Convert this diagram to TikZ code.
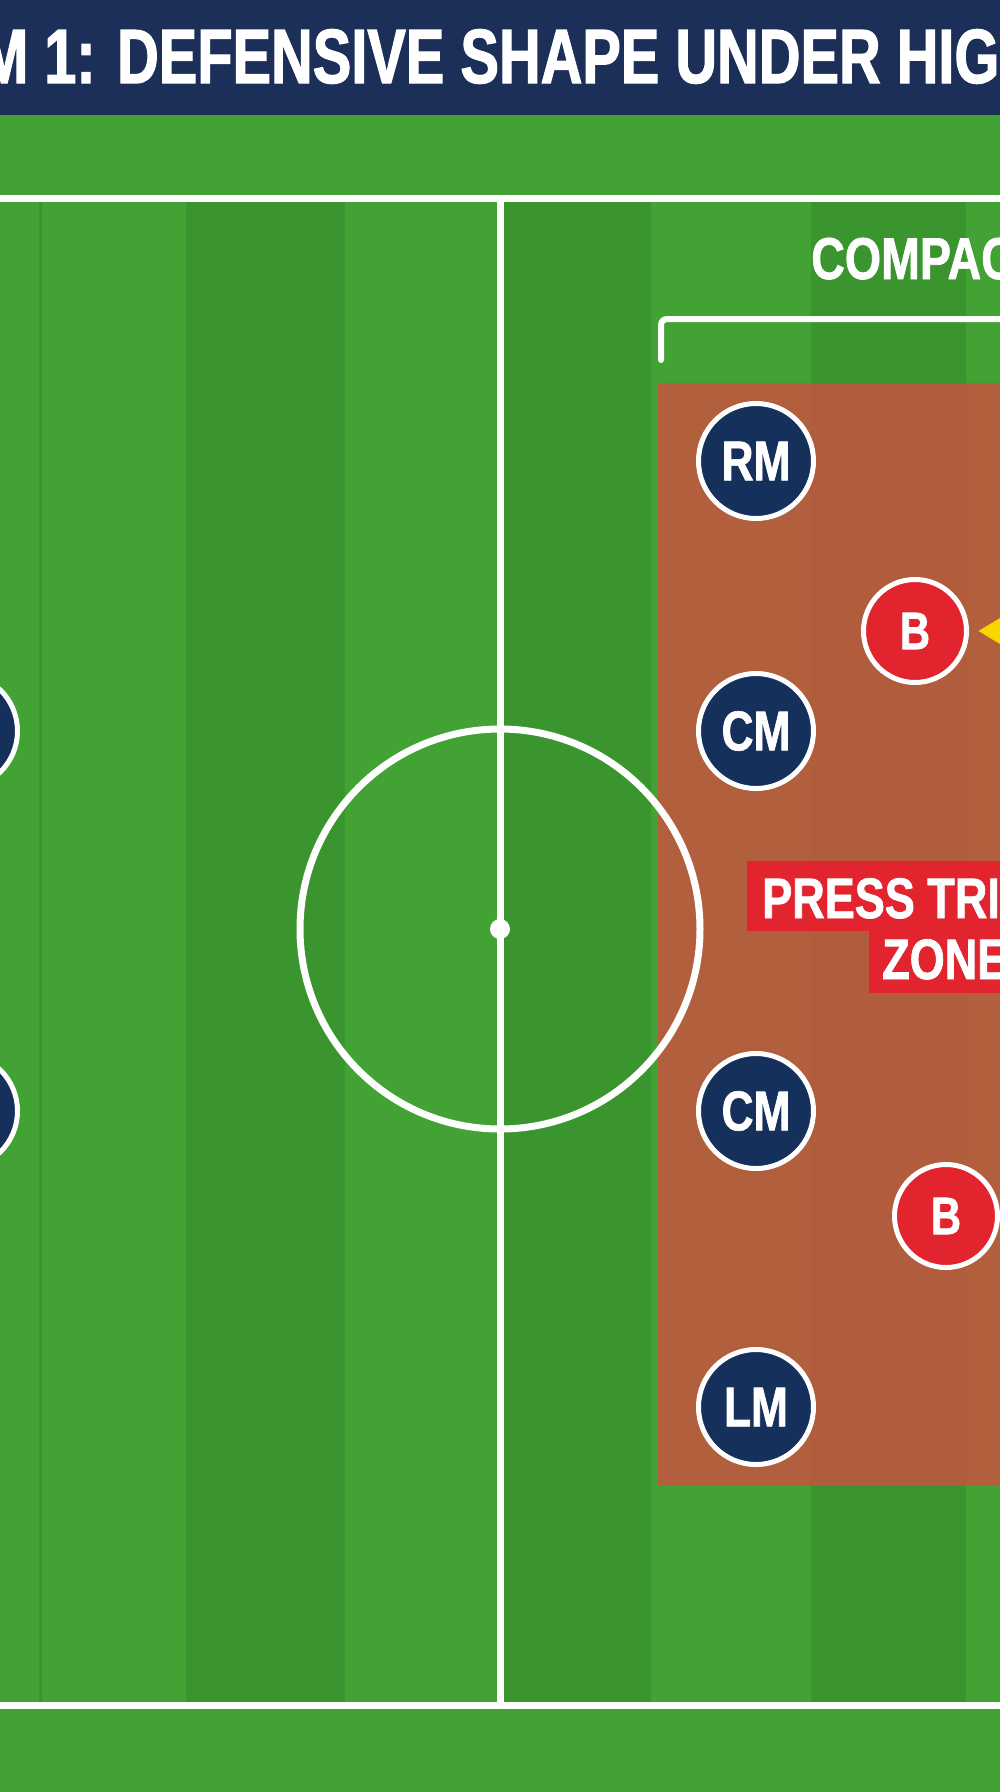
\documentclass[tikz,border=0pt]{standalone}
\usepackage{fontspec}
\usepackage{xcolor}
\usepackage{tikz}
\usetikzlibrary{positioning}
\usetikzlibrary{arrows.meta}
\newfontfamily\condfont[FakeStretch=0.75,FakeBold=1.5]{Liberation Sans}
\newfontfamily\tagfont[FakeStretch=0.79,FakeBold=1.2]{Liberation Sans}
\definecolor{titlenavy}{RGB}{27,47,89}
\definecolor{playernavy}{RGB}{22,48,92}
\definecolor{grass}{RGB}{66,163,52}
\definecolor{grassdark}{RGB}{59,149,46}
\definecolor{zoneorange}{RGB}{198,84,64}
\definecolor{pressred}{RGB}{226,36,46}
\definecolor{arrowyellow}{RGB}{248,214,0}

\begin{document}
\begin{tikzpicture}[x=1pt,y=-1pt,
	player/.style={circle,draw=white,line width=5pt,fill=playernavy,minimum size=115pt,inner sep=0pt,text=white,font=\tagfont\bfseries\fontsize{56pt}{56pt}\selectfont},
	ball/.style={player,fill=pressred,minimum size=103pt,font=\tagfont\bfseries\fontsize{53pt}{53pt}\selectfont},
	pitchline/.style={white,line width=7pt},
	zonelabel/.style={fill=pressred,text=white,anchor=base west,inner ysep=0pt,text depth=13pt,font=\tagfont\bfseries\fontsize{57pt}{57pt}\selectfont}]
		\useasboundingbox (0,0) rectangle (1000,1792);
		\fill[grass] (0,0) rectangle (1000,1792);
		\foreach \a/\b in {186/345,500/651,811/966}
			\fill[grassdark] (\a,202) rectangle (\b,1702);
		\draw[grassdark,line width=3pt] (40,202) -- (40,1702);
		\fill[zoneorange,fill opacity=0.85] (658,383) rectangle (1010,1486);
		\draw[pitchline] (-10,198) -- (1010,198);
		\draw[pitchline] (-10,1705) -- (1010,1705);
		\draw[pitchline] (500,198) -- (500,1705);
		\draw[pitchline] (500,929) circle[radius=200pt];
		\fill[white] (500,929) circle[radius=10pt];
		\fill[titlenavy] (0,0) rectangle (1000,115);
		\node[anchor=base west,inner sep=0pt,text=white,font=\condfont\bfseries\fontsize{77pt}{77pt}\selectfont] (title) at (-20,83) {M 1: DEFENSIVE SHAPE UNDER HIG};
		\node[anchor=base west,inner sep=0pt,text=white,font=\tagfont\bfseries\fontsize{59pt}{59pt}\selectfont] (compact) at (811,279) {COMPAC};
		\draw[white,line width=6pt,rounded corners=6pt,line cap=round] (661,360) -- (661,319) -- (1010,319);
		\node[player] (rm) at (756,461) {RM};
		\node[player] (cm1) at (756,731) {CM};
		\node[player] (cm2) at (756,1111) {CM};
		\node[player] (lm) at (756,1407) {LM};
		\node[player] (lb1) at (-40,731) {};
		\node[player] (lb2) at (-40,1111) {};
		\node[ball] (b1) at (915,631) {B};
		\node[ball] (b2) at (946,1216) {B};
		\node[zonelabel,inner xsep=15pt,text height=57pt] (press) at (747,918) {PRESS TRI};
		\node[zonelabel,inner xsep=13pt,text height=48pt,text depth=14pt] (zone) at (869,979) {ZONE};
		\coordinate (arrowtail) at (1100,631);
		\draw[-{Triangle[length=34pt,width=38pt]},arrowyellow,line width=8pt,shorten >=9pt] (arrowtail) -- (b1.east);
	\end{tikzpicture}
\end{document}
